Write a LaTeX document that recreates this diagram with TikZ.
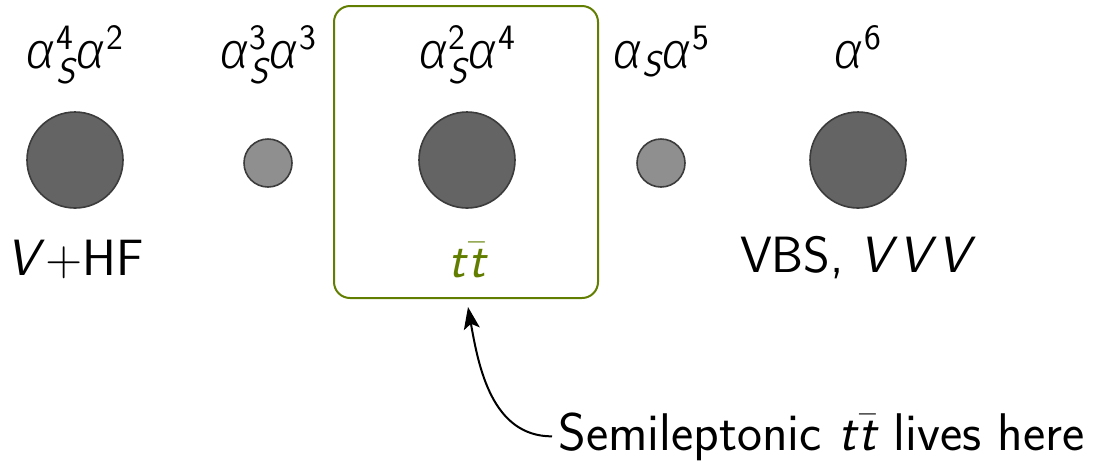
\documentclass[tikz,border=0pt]{standalone}
\usepackage{amsmath}
\usepackage[no-math]{fontspec}
\setmainfont{Latin Modern Sans}
\newfontfamily\grk{Fira Sans}[UprightFont=* Light,ItalicFont=* Light Italic]
\usetikzlibrary{arrows.meta}
\definecolor{olivegreen}{RGB}{98,126,0}
\definecolor{bigfill}{RGB}{100,100,100}
\definecolor{smallfill}{RGB}{143,143,143}
\definecolor{rimgray}{RGB}{60,60,60}
\newcommand{\al}{\text{\grk\itshape α}}
\newcommand{\sv}[1]{\text{\itshape #1}}
\newcommand{\as}{\al_{\sv{S}}}
\newcommand{\ttb}{$\sv{t\/}\bar{\sv{t}}$}

\begin{document}
\begin{tikzpicture}[x=0.5pt,y=-0.5pt,
		bigblob/.style={circle,draw=rimgray,line width=0.8pt,fill=bigfill,minimum size=48pt,inner sep=0pt},
		smallblob/.style={circle,draw=rimgray,line width=0.8pt,fill=smallfill,minimum size=24pt,inner sep=0pt},
		order/.style={anchor=base,inner sep=0pt},
		proc/.style={anchor=base,inner sep=0pt},
		every node/.append style={font=\fontsize{25.5}{30}\selectfont}]
	\useasboundingbox (0,0) rectangle (1095,463);
	% highlighted column
	\node[draw=olivegreen,line width=1pt,rounded corners=8pt,minimum width=132pt,minimum height=146pt,inner sep=0pt] (box) at (466,152) {};
	% blobs
	\node[bigblob] (b1) at (75,160) {};
	\node[smallblob] (b2) at (268,163) {};
	\node[bigblob] (b3) at (467,160) {};
	\node[smallblob] (b4) at (661,163) {};
	\node[bigblob] (b5) at (858,160) {};
	% coupling orders
	\node[order] (o1) at (75,68) {$\as^{\text{4}}\al^{\text{2}}$};
	\node[order] (o2) at (268,68) {$\as^{\text{3}}\al^{\text{3}}$};
	\node[order] (o3) at (467,68) {$\as^{\text{2}}\al^{\text{4}}$};
	\node[order] (o4) at (661,68) {$\as\al^{\text{5}}$};
	\node[order] (o5) at (858,68) {$\al^{\text{6}}$};
	% processes
	\node[proc] (p1) at (75,275) {\textit{V}\/+HF};
	\node[proc,text=olivegreen] (p3) at (467,277) {\ttb};
	\node[proc] (p5) at (858,272) {VBS, \textit{V\/V\/V}};
	% annotation
	\node[proc,anchor=base west,font=\fontsize{26.5}{31}\selectfont] (note) at (558,450) {Semileptonic \ttb{} lives here};
	\coordinate (tip) at (468,307);
	\draw[-{Stealth[length=11pt,width=8pt,inset=2.5pt]},line width=1pt] ([xshift=-3pt]note.west) to[out=180,in=-80] (tip);
\end{tikzpicture}
\end{document}
